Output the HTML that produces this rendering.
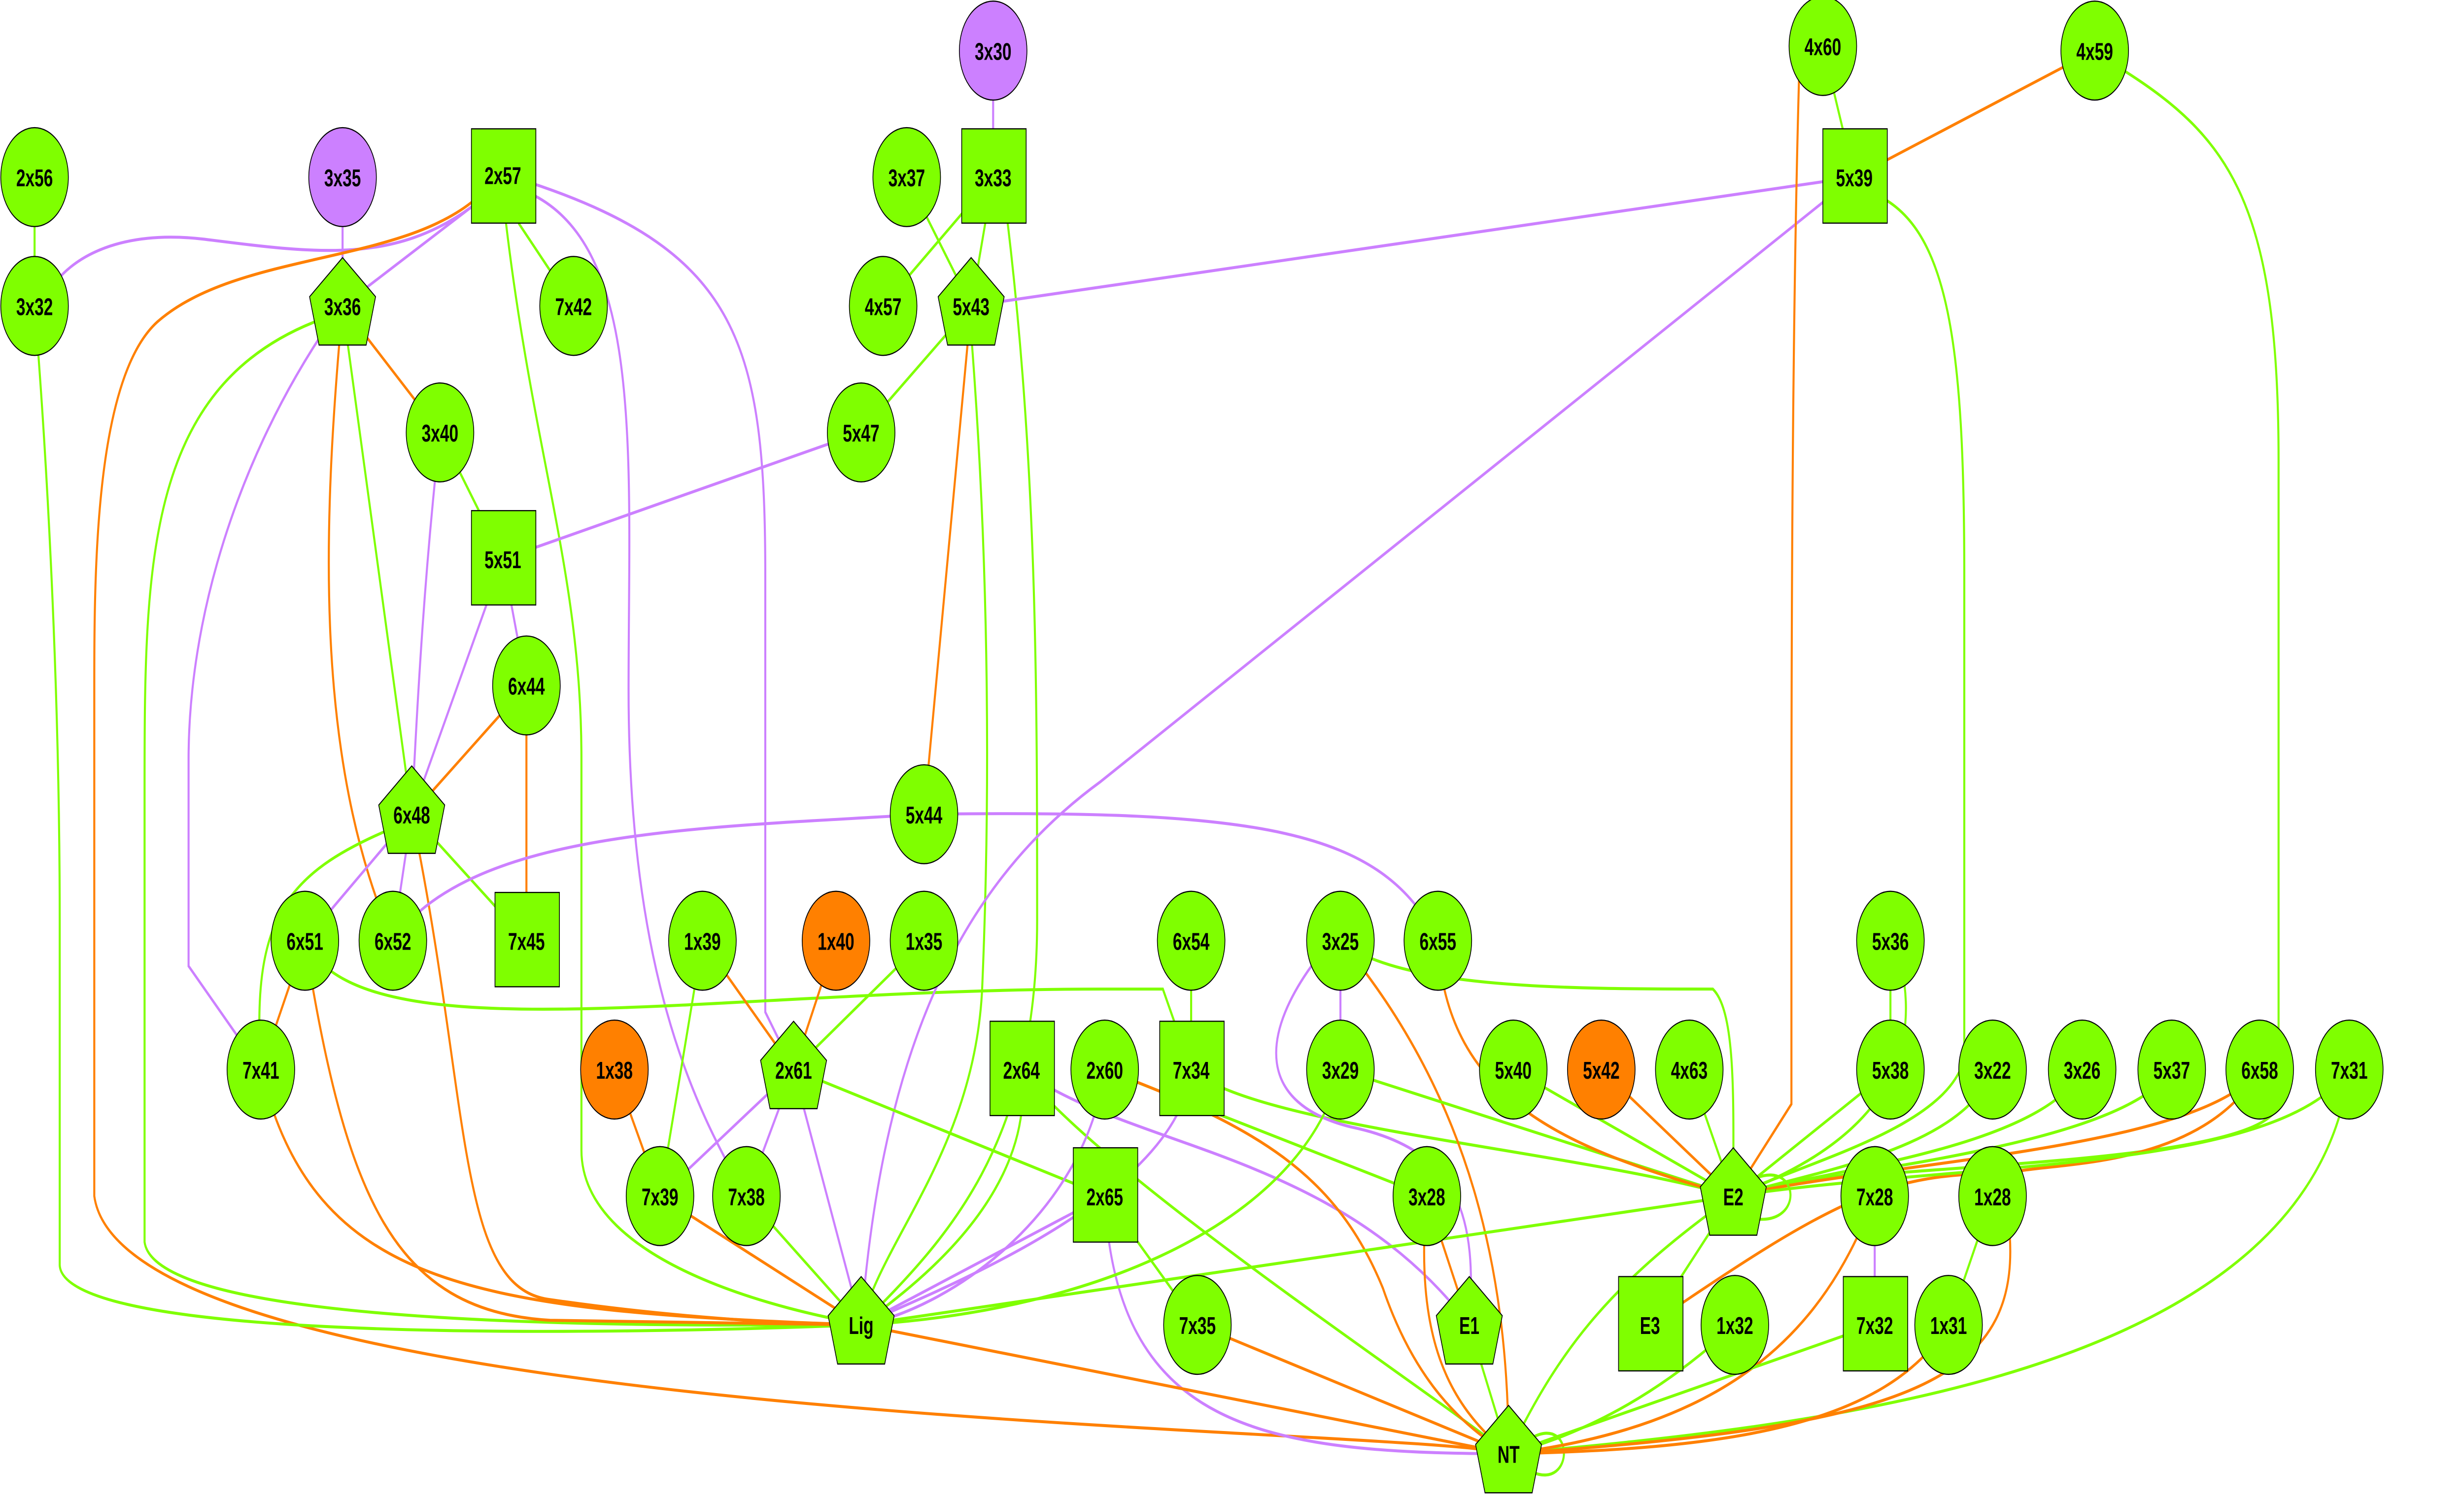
<!DOCTYPE html>
<html><head><meta charset="utf-8"><style>
html,body{margin:0;padding:0;background:#fff;overflow:hidden;width:100%;height:100%;}
svg{display:block;width:100vw;height:100vh;}
text{font-family:"Liberation Sans",Arial,sans-serif;font-weight:bold;font-size:10.5px;text-anchor:middle;fill:#000;}
.g{stroke:#7fff00;fill:none;stroke-width:1.3}
.p{stroke:#cc80ff;fill:none;stroke-width:1.3}
.o{stroke:#ff8000;fill:none;stroke-width:1.3}
.n{fill:#7fff00;stroke:#000;stroke-width:0.5}
.np{fill:#cc80ff;stroke:#000;stroke-width:0.5}
.no{fill:#ff8000;stroke:#000;stroke-width:0.5}
</style></head><body>
<svg width="7313" height="3048" viewBox="0 0 1568 653" preserveAspectRatio="none" xmlns="http://www.w3.org/2000/svg">
<!-- edges -->
<path class="g" d="M22,77 L22,133"/>
<path class="p" d="M218,77 L218,133"/>
<path class="p" d="M300,90 C250,115 200,110 130,104 C80,100 45,110 30,128"/>
<path class="p" d="M300,90 L218,133"/>
<path class="g" d="M330,97 L365,133"/>
<path class="o" d="M300,88 C250,115 150,110 100,140 C60,165 60,250 60,300 L60,520 C80,620 900,620 960,632"/>
<path class="g" d="M322,97 C340,200 370,250 370,330 L370,500 C370,560 560,576 548,576"/>
<path class="p" d="M340,85 C410,110 400,200 400,300 C400,420 440,480 475,520"/>
<path class="p" d="M340,80 C470,110 487,150 487,250 L487,440 L505,465"/>
<path class="g" d="M22,133 C30,200 38,300 38,400 L38,550 C40,585 400,580 548,576"/>
<path class="o" d="M218,133 L280,188"/>
<path class="g" d="M218,133 L262,354"/>
<path class="o" d="M218,133 C205,230 200,330 250,409"/>
<path class="p" d="M210,140 C150,200 120,270 120,330 L120,420 L166,465"/>
<path class="g" d="M200,140 C90,170 92,250 92,350 L92,540 C100,580 450,576 548,576"/>
<path class="g" d="M280,188 L320,243"/>
<path class="p" d="M280,188 C270,250 266,300 262,354"/>
<path class="p" d="M548,188 L320,243"/>
<path class="p" d="M320,243 L335,298"/>
<path class="p" d="M320,243 L262,354"/>
<path class="o" d="M335,298 L262,354"/>
<path class="o" d="M335,298 L335,409"/>
<path class="p" d="M262,354 L194,409"/>
<path class="p" d="M262,354 L250,409"/>
<path class="g" d="M262,354 L335,409"/>
<path class="g" d="M250,360 C180,380 160,400 166,465"/>
<path class="o" d="M262,354 C300,480 290,560 350,565 C420,572 500,576 548,576"/>
<path class="o" d="M194,409 L166,465"/>
<path class="o" d="M194,409 C220,520 250,570 350,574 L548,576"/>
<path class="g" d="M194,409 C230,460 450,430 700,430 L740,430 L758,465"/>
<path class="o" d="M166,465 C200,560 300,570 548,576"/>
<path class="p" d="M588,354 C450,360 300,360 250,409"/>
<path class="p" d="M588,354 C800,352 880,360 915,409"/>
<path class="p" d="M632,22 L632,77"/>
<path class="g" d="M577,77 L618,133"/>
<path class="g" d="M632,77 L562,133"/>
<path class="g" d="M632,77 L618,133"/>
<path class="g" d="M640,90 C660,200 660,300 660,400 C660,500 600,540 548,576"/>
<path class="g" d="M618,133 L548,188"/>
<path class="o" d="M618,133 L588,354"/>
<path class="g" d="M618,145 C630,250 630,350 625,430 C620,500 560,540 548,576"/>
<path class="p" d="M1180,77 L618,133"/>
<path class="p" d="M1180,77 L700,340 C600,390 560,470 548,576"/>
<path class="g" d="M1195,85 C1240,100 1250,150 1250,250 L1250,460 C1240,490 1150,505 1103,520"/>
<path class="g" d="M1160,20 L1180,77"/>
<path class="o" d="M1333,22 L1180,77"/>
<path class="o" d="M1145,30 C1140,150 1140,300 1140,400 L1140,480 L1103,520"/>
<path class="g" d="M1350,30 C1420,60 1450,90 1450,200 L1450,480 C1440,510 1150,505 1103,520"/>
<path class="o" d="M447,409 L505,465"/>
<path class="g" d="M447,409 L420,520"/>
<path class="o" d="M532,409 L505,465"/>
<path class="g" d="M588,409 L505,465"/>
<path class="p" d="M505,465 L420,520"/>
<path class="p" d="M505,465 L475,520"/>
<path class="p" d="M505,465 L548,576"/>
<path class="g" d="M505,465 L703,520"/>
<path class="o" d="M391,465 L420,520"/>
<path class="o" d="M420,520 L548,576"/>
<path class="g" d="M475,520 L548,576"/>
<path class="g" d="M758,409 L758,465"/>
<path class="p" d="M758,465 C750,520 600,560 548,576"/>
<path class="g" d="M758,465 C800,490 1000,500 1103,520"/>
<path class="g" d="M650,465 C660,520 580,560 548,576"/>
<path class="g" d="M650,465 C700,510 900,600 960,632"/>
<path class="p" d="M650,465 C720,500 850,500 935,576"/>
<path class="p" d="M703,465 C690,530 600,570 548,576"/>
<path class="g" d="M703,465 L908,520"/>
<path class="o" d="M703,465 C800,490 850,510 880,560 C900,600 930,620 960,632"/>
<path class="p" d="M703,520 L548,576"/>
<path class="g" d="M703,520 L762,576"/>
<path class="p" d="M703,520 C710,620 800,632 960,632"/>
<path class="o" d="M762,576 L960,632"/>
<path class="p" d="M853,409 L853,465"/>
<path class="g" d="M853,409 C890,430 1000,430 1090,430 C1105,440 1103,480 1103,520"/>
<path class="o" d="M853,409 C940,480 960,560 960,632"/>
<path class="p" d="M840,415 C800,450 800,480 860,490 C930,500 940,530 935,576"/>
<path class="g" d="M853,465 C830,530 700,570 548,576"/>
<path class="g" d="M853,465 L1103,520"/>
<path class="o" d="M915,409 C920,480 1000,500 1103,520"/>
<path class="o" d="M908,520 L935,576"/>
<path class="o" d="M908,520 C900,580 920,610 960,632"/>
<path class="g" d="M935,576 L960,632"/>
<path class="o" d="M548,576 L960,632"/>
<path class="g" d="M548,576 L1103,520"/>
<path class="g" d="M963,465 L1103,520"/>
<path class="o" d="M1019,465 L1103,520"/>
<path class="g" d="M1075,465 L1103,520"/>
<path class="g" d="M1203,409 L1203,465"/>
<path class="g" d="M1210,420 C1225,470 1180,500 1103,520"/>
<path class="g" d="M1203,465 L1103,520"/>
<path class="g" d="M1268,465 C1250,500 1150,510 1103,520"/>
<path class="g" d="M1325,465 C1300,500 1150,510 1103,520"/>
<path class="g" d="M1382,465 C1350,500 1150,510 1103,520"/>
<path class="o" d="M1438,465 C1400,500 1200,505 1103,520"/>
<path class="o" d="M1438,465 C1400,510 1300,505 1280,510 C1200,510 1170,520 1050,576"/>
<path class="g" d="M1495,465 C1450,510 1250,505 1103,520"/>
<path class="g" d="M1495,465 C1470,600 1150,620 960,632"/>
<path class="g" d="M1103,520 L1050,576"/>
<path class="g" d="M1103,520 C1020,560 990,590 960,632"/>
<path class="g" d="M1118,512 C1145,505 1148,532 1118,530"/>
<path class="g" d="M975,625 C1002,615 1002,648 975,640"/>
<path class="p" d="M1193,520 L1193,576"/>
<path class="o" d="M1193,520 C1160,580 1100,620 960,632"/>
<path class="g" d="M1193,576 L960,632"/>
<path class="g" d="M1268,520 L1240,576"/>
<path class="o" d="M1278,530 C1290,600 1220,620 960,632"/>
<path class="o" d="M1240,576 C1200,620 1100,630 960,632"/>
<path class="g" d="M1104,576 C1050,610 1000,625 960,632"/>

<!-- circles -->
<g>
<circle class="n" cx="22" cy="77" r="21.5"/><text x="22" y="81">2x56</text>
<circle class="np" cx="218" cy="77" r="21.5"/><text x="218" y="81">3x35</text>
<circle class="n" cx="22" cy="133" r="21.5"/><text x="22" y="137">3x32</text>
<circle class="n" cx="365" cy="133" r="21.5"/><text x="365" y="137">7x42</text>
<circle class="n" cx="577" cy="77" r="21.5"/><text x="577" y="81">3x37</text>
<circle class="np" cx="632" cy="22" r="21.5"/><text x="632" y="26">3x30</text>
<circle class="n" cx="562" cy="133" r="21.5"/><text x="562" y="137">4x57</text>
<circle class="n" cx="548" cy="188" r="21.5"/><text x="548" y="192">5x47</text>
<circle class="n" cx="280" cy="188" r="21.5"/><text x="280" y="192">3x40</text>
<circle class="n" cx="335" cy="298" r="21.5"/><text x="335" y="302">6x44</text>
<circle class="n" cx="588" cy="354" r="21.5"/><text x="588" y="358">5x44</text>
<circle class="n" cx="915" cy="409" r="21.5"/><text x="915" y="413">6x55</text>
<circle class="n" cx="194" cy="409" r="21.5"/><text x="194" y="413">6x51</text>
<circle class="n" cx="250" cy="409" r="21.5"/><text x="250" y="413">6x52</text>
<circle class="n" cx="166" cy="465" r="21.5"/><text x="166" y="469">7x41</text>
<circle class="n" cx="447" cy="409" r="21.5"/><text x="447" y="413">1x39</text>
<circle class="no" cx="532" cy="409" r="21.5"/><text x="532" y="413">1x40</text>
<circle class="n" cx="588" cy="409" r="21.5"/><text x="588" y="413">1x35</text>
<circle class="n" cx="758" cy="409" r="21.5"/><text x="758" y="413">6x54</text>
<circle class="n" cx="853" cy="409" r="21.5"/><text x="853" y="413">3x25</text>
<circle class="n" cx="1203" cy="409" r="21.5"/><text x="1203" y="413">5x36</text>
<circle class="no" cx="391" cy="465" r="21.5"/><text x="391" y="469">1x38</text>
<circle class="n" cx="853" cy="465" r="21.5"/><text x="853" y="469">3x29</text>
<circle class="n" cx="703" cy="465" r="21.5"/><text x="703" y="469">2x60</text>
<circle class="n" cx="963" cy="465" r="21.5"/><text x="963" y="469">5x40</text>
<circle class="no" cx="1019" cy="465" r="21.5"/><text x="1019" y="469">5x42</text>
<circle class="n" cx="1075" cy="465" r="21.5"/><text x="1075" y="469">4x63</text>
<circle class="n" cx="1203" cy="465" r="21.5"/><text x="1203" y="469">5x38</text>
<circle class="n" cx="1268" cy="465" r="21.5"/><text x="1268" y="469">3x22</text>
<circle class="n" cx="1325" cy="465" r="21.5"/><text x="1325" y="469">3x26</text>
<circle class="n" cx="1382" cy="465" r="21.5"/><text x="1382" y="469">5x37</text>
<circle class="n" cx="1438" cy="465" r="21.5"/><text x="1438" y="469">6x58</text>
<circle class="n" cx="1495" cy="465" r="21.5"/><text x="1495" y="469">7x31</text>
<circle class="n" cx="420" cy="520" r="21.5"/><text x="420" y="524">7x39</text>
<circle class="n" cx="475" cy="520" r="21.5"/><text x="475" y="524">7x38</text>
<circle class="n" cx="908" cy="520" r="21.5"/><text x="908" y="524">3x28</text>
<circle class="n" cx="1193" cy="520" r="21.5"/><text x="1193" y="524">7x28</text>
<circle class="n" cx="1268" cy="520" r="21.5"/><text x="1268" y="524">1x28</text>
<circle class="n" cx="762" cy="576" r="21.5"/><text x="762" y="580">7x35</text>
<circle class="n" cx="1104" cy="576" r="21.5"/><text x="1104" y="580">1x32</text>
<circle class="n" cx="1240" cy="576" r="21.5"/><text x="1240" y="580">1x31</text>
<circle class="n" cx="1160" cy="20" r="21.5"/><text x="1160" y="24">4x60</text>
<circle class="n" cx="1333" cy="22" r="21.5"/><text x="1333" y="26">4x59</text>
</g>
<!-- squares -->
<g>
<rect class="n" x="300" y="56" width="41" height="41"/><text x="320" y="80">2x57</text>
<rect class="n" x="612" y="56" width="41" height="41"/><text x="632" y="81">3x33</text>
<rect class="n" x="1160" y="56" width="41" height="41"/><text x="1180" y="81">5x39</text>
<rect class="n" x="300" y="222" width="41" height="41"/><text x="320" y="247">5x51</text>
<rect class="n" x="315" y="388" width="41" height="41"/><text x="335" y="413">7x45</text>
<rect class="n" x="738" y="444" width="41" height="41"/><text x="758" y="469">7x34</text>
<rect class="n" x="630" y="444" width="41" height="41"/><text x="650" y="469">2x64</text>
<rect class="n" x="683" y="499" width="41" height="41"/><text x="703" y="524">2x65</text>
<rect class="n" x="1030" y="555" width="41" height="41"/><text x="1050" y="580">E3</text>
<rect class="n" x="1173" y="555" width="41" height="41"/><text x="1193" y="580">7x32</text>
</g>
<!-- pentagons -->
<g>
<polygon class="n" points="218,112 239,129 233,150 203,150 197,129"/><text x="218" y="137">3x36</text>
<polygon class="n" points="618,112 639,129 633,150 603,150 597,129"/><text x="618" y="137">5x43</text>
<polygon class="n" points="262,333 283,350 277,371 247,371 241,350"/><text x="262" y="358">6x48</text>
<polygon class="n" points="505,444 526,461 520,482 490,482 484,461"/><text x="505" y="469">2x61</text>
<polygon class="n" points="548,555 569,572 563,593 533,593 527,572"/><text x="548" y="580">Lig</text>
<polygon class="n" points="1103,499 1124,516 1118,537 1088,537 1082,516"/><text x="1103" y="524">E2</text>
<polygon class="n" points="935,555 956,572 950,593 920,593 914,572"/><text x="935" y="580">E1</text>
<polygon class="n" points="960,611 981,628 975,649 945,649 939,628"/><text x="960" y="636">NT</text>
</g>
</svg>
</body></html>
